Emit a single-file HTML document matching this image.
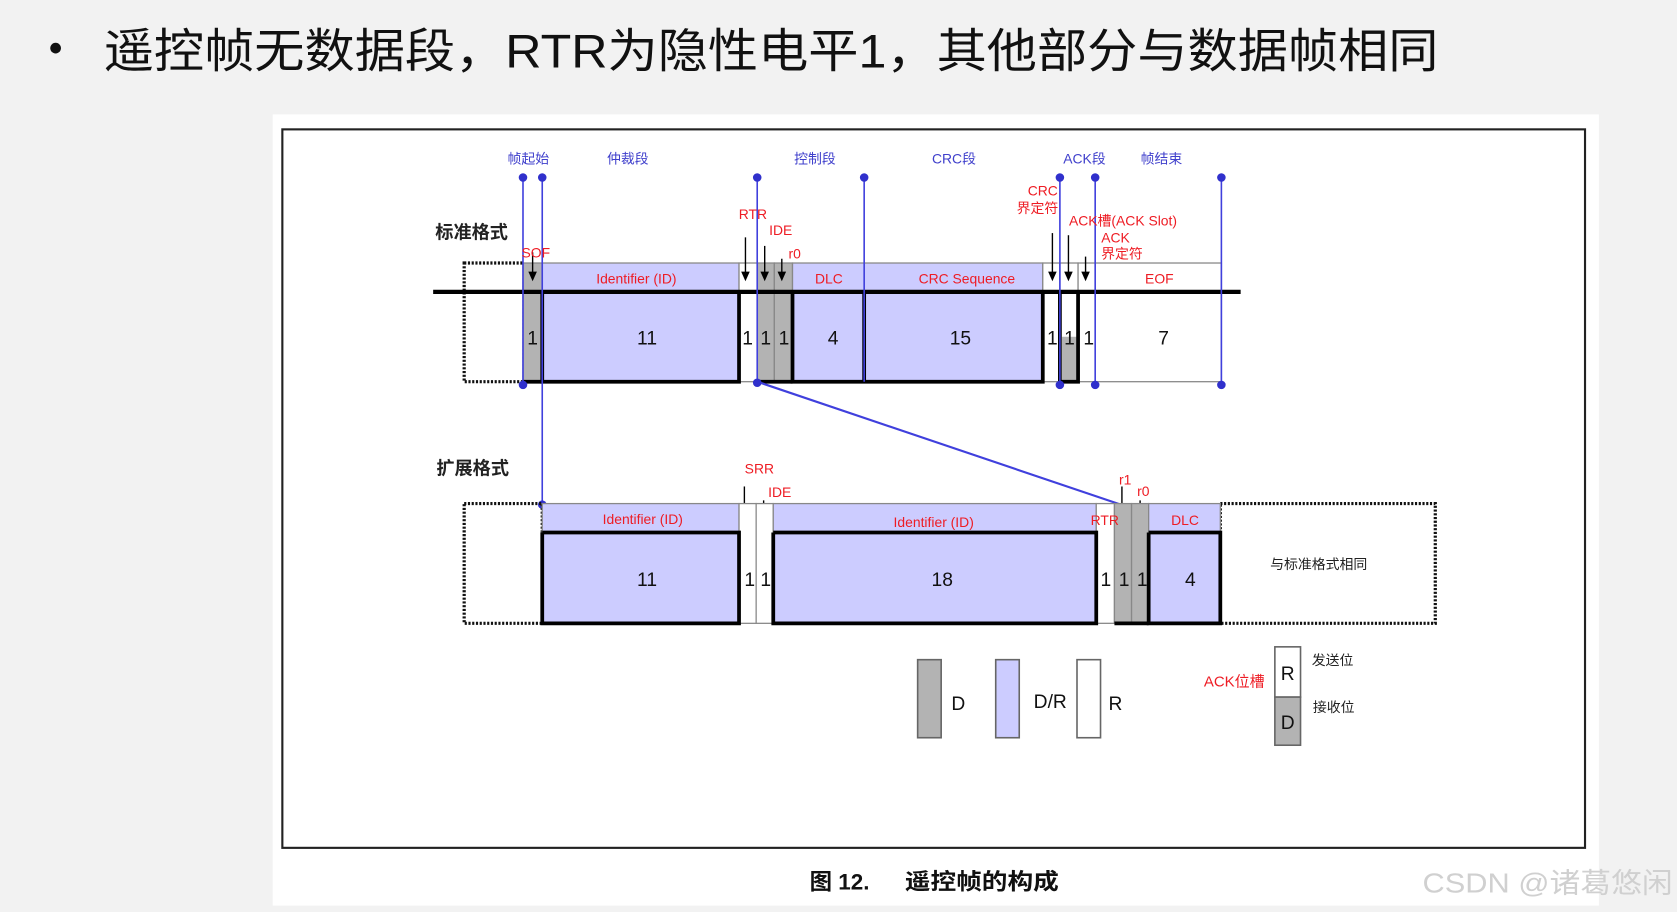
<!DOCTYPE html>
<html><head><meta charset="utf-8"><style>
html,body{margin:0;padding:0;background:#f2f2f2;width:1677px;height:912px;overflow:hidden}
svg{display:block}
text{font-family:"Liberation Sans","Noto Sans CJK SC",sans-serif}
</style></head><body>
<svg width="1677" height="912" viewBox="0 0 1568 853" preserveAspectRatio="none" xmlns="http://www.w3.org/2000/svg">
<rect x="0" y="0" width="1568" height="853" fill="#f2f2f2"/>
<circle cx="52" cy="45" r="5" fill="#111"/>
<text x="97" y="63" font-size="44" fill="#111" textLength="1248" lengthAdjust="spacingAndGlyphs">遥控帧无数据段，RTR为隐性电平1，其他部分与数据帧相同</text>
<rect x="255" y="107" width="1240" height="740" fill="#fff"/>
<rect x="264" y="121" width="1218" height="672" fill="none" stroke="#222" stroke-width="2"/>

<!-- standard format -->
<text x="407" y="223" font-size="17" fill="#222" font-weight="bold">标准格式</text>
<rect x="434" y="246" width="56" height="111" fill="none" stroke="#111" stroke-width="3" stroke-dasharray="2,1.5"/>
<g stroke="#888" stroke-width="1.2">
<rect x="489" y="246" width="18" height="111" fill="#b3b3b3"/>
<rect x="507" y="246" width="184" height="111" fill="#ccccff"/>
<rect x="691" y="246" width="17" height="111" fill="#fff"/>
<rect x="708" y="246" width="16" height="111" fill="#b3b3b3"/>
<rect x="724" y="246" width="17" height="111" fill="#b3b3b3"/>
<rect x="741" y="246" width="67" height="111" fill="#ccccff"/>
<rect x="808" y="246" width="167" height="111" fill="#ccccff"/>
<rect x="975" y="246" width="16" height="111" fill="#fff"/>
<rect x="991" y="246" width="17" height="111" fill="#fff"/>
<rect x="993" y="315" width="14" height="42" fill="#b3b3b3" stroke="none"/>
<rect x="1008" y="246" width="16" height="111" fill="#fff"/>
<rect x="1024" y="246" width="118" height="111" fill="#fff"/>
</g>
<line x1="405" y1="273" x2="1160" y2="273" stroke="#000" stroke-width="4"/>
<g stroke="#000" stroke-width="3.5" fill="none">
<polyline points="507,273 507,357 691,357 691,273"/>
<polyline points="741,273 741,357 975,357 975,273"/>
<line x1="808" y1="273" x2="808" y2="357"/>
<polyline points="991,273 991,357 1008,357 1008,273"/>
<line x1="489" y1="357" x2="507" y2="357"/>
<line x1="708" y1="357" x2="741" y2="357"/>
</g>
<g stroke="#000" stroke-width="1.3">
<line x1="498" y1="236" x2="498" y2="256"/>
<line x1="697" y1="222" x2="697" y2="256"/>
<line x1="715" y1="230" x2="715" y2="256"/>
<line x1="731" y1="242" x2="731" y2="256"/>
<line x1="984" y1="218" x2="984" y2="256"/>
<line x1="999" y1="220" x2="999" y2="256"/>
<line x1="1015" y1="240" x2="1015" y2="256"/>
<line x1="696" y1="455" x2="696" y2="481"/>
<line x1="714" y1="468" x2="714" y2="481"/>
<line x1="1049" y1="455" x2="1049" y2="481"/>
<line x1="1066" y1="468" x2="1066" y2="481"/>
</g>
<g fill="#000">
<polygon points="494,254 502,254 498,263"/>
<polygon points="693,254 701,254 697,263"/>
<polygon points="711,254 719,254 715,263"/>
<polygon points="727,254 735,254 731,263"/>
<polygon points="980,254 988,254 984,263"/>
<polygon points="995,254 1003,254 999,263"/>
<polygon points="1011,254 1019,254 1015,263"/>
<polygon points="692,479 700,479 696,488"/>
<polygon points="710,479 718,479 714,488"/>
<polygon points="1045,479 1053,479 1049,488"/>
<polygon points="1062,479 1070,479 1066,488"/>
</g>
<g stroke="#4040dd" stroke-width="1.5">
<line x1="489" y1="166" x2="489" y2="360"/>
<line x1="507" y1="166" x2="507" y2="472"/>
<line x1="708" y1="166" x2="708" y2="357"/>
<line x1="808" y1="166" x2="808" y2="357"/>
<line x1="991" y1="166" x2="991" y2="360"/>
<line x1="1024" y1="166" x2="1024" y2="360"/>
<line x1="1142" y1="166" x2="1142" y2="360"/>
<line x1="708" y1="357" x2="1048" y2="472" stroke-width="2"/>
</g>
<g fill="#3030cc">
<circle cx="489" cy="166" r="4"/><circle cx="507" cy="166" r="4"/><circle cx="708" cy="166" r="4"/><circle cx="808" cy="166" r="4"/><circle cx="991" cy="166" r="4"/><circle cx="1024" cy="166" r="4"/><circle cx="1142" cy="166" r="4"/>
<circle cx="489" cy="360" r="4"/><circle cx="708" cy="358" r="4"/><circle cx="991" cy="360" r="4"/><circle cx="1024" cy="360" r="4"/><circle cx="1142" cy="360" r="4"/><circle cx="507" cy="472" r="4"/>
</g>
<g fill="#4040cc" font-size="13" text-anchor="middle">
<text x="494" y="153">帧起始</text><text x="587" y="153">仲裁段</text><text x="762" y="153">控制段</text><text x="892" y="153">CRC段</text><text x="1014" y="153">ACK段</text><text x="1086" y="153">帧结束</text>
</g>
<g fill="#ee1c24" font-size="13" text-anchor="middle">
<text x="501" y="241">SOF</text><text x="704" y="205">RTR</text><text x="730" y="220">IDE</text><text x="743" y="242">r0</text>
<text x="975" y="183">CRC</text><text x="970" y="199">界定符</text>
<text x="1050" y="211">ACK槽(ACK Slot)</text><text x="1043" y="227">ACK</text><text x="1049" y="242">界定符</text>
<text x="595" y="265">Identifier (ID)</text><text x="775" y="265">DLC</text><text x="904" y="265">CRC Sequence</text><text x="1084" y="265">EOF</text>
</g>
<g fill="#111" font-size="18" text-anchor="middle">
<text x="498" y="322">1</text><text x="605" y="322">11</text><text x="699" y="322">1</text><text x="716" y="322">1</text><text x="733" y="322">1</text><text x="779" y="322">4</text><text x="898" y="322">15</text><text x="984" y="322">1</text><text x="1000" y="322">1</text><text x="1018" y="322">1</text><text x="1088" y="322">7</text>
</g>

<!-- extended -->
<text x="408" y="444" font-size="17" fill="#222" font-weight="bold">扩展格式</text>
<rect x="434" y="471" width="73" height="112" fill="none" stroke="#111" stroke-width="3" stroke-dasharray="2,1.5"/>
<rect x="1141" y="471" width="201" height="112" fill="none" stroke="#111" stroke-width="3" stroke-dasharray="2,1.5"/>
<g stroke="#888" stroke-width="1.2">
<rect x="507" y="471" width="184" height="112" fill="#ccccff"/>
<rect x="691" y="471" width="16" height="112" fill="#fff"/>
<rect x="707" y="471" width="16" height="112" fill="#fff"/>
<rect x="723" y="471" width="302" height="112" fill="#ccccff"/>
<rect x="1025" y="471" width="17" height="112" fill="#fff"/>
<rect x="1042" y="471" width="16" height="112" fill="#b3b3b3"/>
<rect x="1058" y="471" width="16" height="112" fill="#b3b3b3"/>
<rect x="1074" y="471" width="67" height="112" fill="#ccccff"/>
</g>
<g stroke="#000" stroke-width="3.5" fill="none">
<polyline points="507,498 507,583 691,583 691,498 507,498"/>
<polyline points="723,498 723,583 1025,583 1025,498 723,498"/>
<polyline points="1074,498 1074,583 1141,583 1141,498 1074,498"/>
<line x1="1042" y1="583" x2="1074" y2="583"/>
</g>
<g fill="#ee1c24" font-size="13" text-anchor="middle">
<text x="710" y="443">SRR</text><text x="729" y="465">IDE</text><text x="1052" y="453">r1</text><text x="1069" y="464">r0</text>
<text x="601" y="490">Identifier (ID)</text><text x="873" y="493">Identifier (ID)</text><text x="1033" y="491">RTR</text><text x="1108" y="491">DLC</text>
</g>
<g fill="#111" font-size="18" text-anchor="middle">
<text x="605" y="548">11</text><text x="701" y="548">1</text><text x="716" y="548">1</text><text x="881" y="548">18</text><text x="1034" y="548">1</text><text x="1051" y="548">1</text><text x="1068" y="548">1</text><text x="1113" y="548">4</text>
</g>
<text x="1233" y="532" font-size="13" fill="#222" text-anchor="middle">与标准格式相同</text>

<!-- legend -->
<g stroke="#666" stroke-width="1.5">
<rect x="858" y="617" width="22" height="73" fill="#b3b3b3"/>
<rect x="931" y="617" width="22" height="73" fill="#ccccff"/>
<rect x="1007" y="617" width="22" height="73" fill="#fff"/>
<rect x="1192" y="605" width="24" height="47" fill="#fff"/>
<rect x="1192" y="652" width="24" height="45" fill="#b3b3b3"/>
</g>
<g fill="#111" font-size="18" text-anchor="middle">
<text x="896" y="664">D</text><text x="982" y="662">D/R</text><text x="1043" y="664">R</text>
<text x="1204" y="636">R</text><text x="1204" y="682">D</text>
</g>
<text x="1154" y="642" font-size="14" fill="#ee1c24" text-anchor="middle">ACK位槽</text>
<text x="1246" y="622" font-size="13" fill="#222" text-anchor="middle">发送位</text>
<text x="1247" y="666" font-size="13" fill="#222" text-anchor="middle">接收位</text>

<text x="757" y="832" font-size="21" fill="#111" font-weight="bold">图 12.</text>
<text x="846" y="832" font-size="21" fill="#111" font-weight="bold" textLength="144" lengthAdjust="spacingAndGlyphs">遥控帧的构成</text>
<text x="1330" y="835" font-size="26" fill="#d0d0d0" textLength="234" lengthAdjust="spacingAndGlyphs">CSDN @诸葛悠闲</text>
</svg>
</body></html>
